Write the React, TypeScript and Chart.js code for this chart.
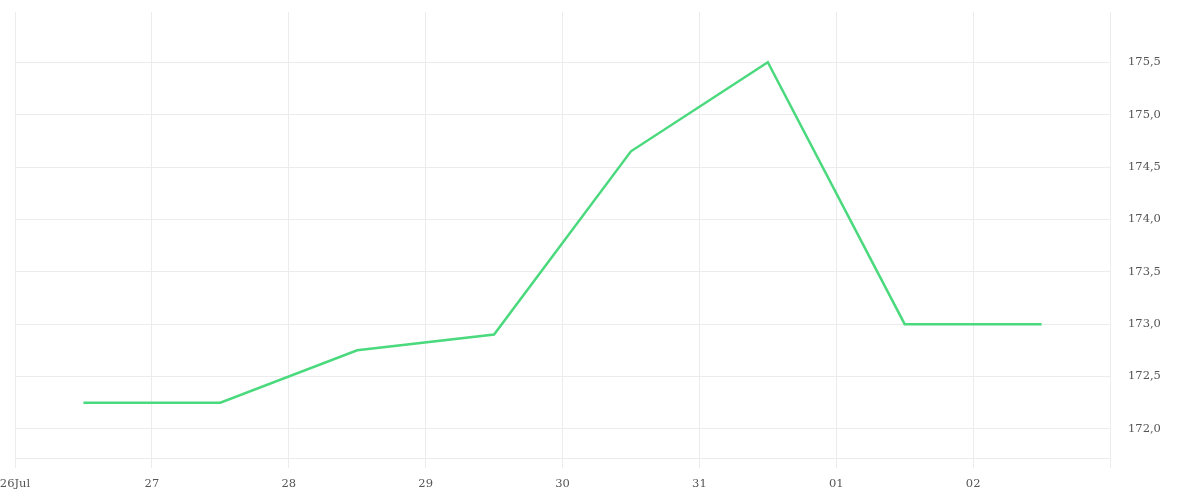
import React, { useEffect, useRef } from "react";
import { Chart, registerables } from "chart.js";

Chart.register(...registerables);

const dayLabels = ["26Jul", "27", "28", "29", "30", "31", "01", "02", ""];
const priceValues = [172.25, 172.25, 172.75, 172.9, 174.65, 175.5, 173.0, 173.0];
const yTickValues = [172.0, 172.5, 173.0, 173.5, 174.0, 174.5, 175.0, 175.5];

export default function App() {
  const ref = useRef<HTMLCanvasElement | null>(null);

  useEffect(() => {
    document.body.style.margin = "0";
    const ctx = ref.current!;
    const points = priceValues.map((v, i) => ({ x: i + 0.5, y: v }));
    const chart = new Chart(ctx, {
      type: "line",
      data: {
        datasets: [
          {
            data: points,
            borderColor: "#4ad97d",
            borderWidth: 2.5,
            pointRadius: 0,
            tension: 0,
            fill: false,
          },
        ],
      },
      options: {
        animation: false,
        responsive: true,
        maintainAspectRatio: false,
        layout: { padding: { top: 12, bottom: 0, left: 0, right: 0 } },
        plugins: { legend: { display: false }, tooltip: { enabled: false } },
        scales: {
          x: {
            type: "linear",
            min: 0,
            max: 8,
            grid: { color: "#ececec", tickLength: 10, lineWidth: 1 },
            border: { color: "#ececec" },
            ticks: {
              stepSize: 1,
              autoSkip: false,
              maxRotation: 0,
              padding: 9,
              color: "#555",
              font: { family: "'DejaVu Serif'", size: 11.5 },
              callback: (v: any) => dayLabels[Math.round(Number(v))] ?? "",
            },
            afterBuildTicks: (scale: any) => {
              scale.ticks = dayLabels.map((_, i) => ({ value: i }));
            },
            afterFit: (scale: any) => {
              scale.paddingLeft = 15;
              scale.paddingRight = 0;
            },
          },
          y: {
            position: "right",
            min: 171.72,
            max: 175.98,
            grid: { color: "#ececec", drawTicks: false },
            border: { color: "#ececec" },
            ticks: {
              padding: 18,
              color: "#555",
              font: { family: "'DejaVu Serif'", size: 11.5 },
              callback: (v: any) => Number(v).toFixed(1).replace(".", ","),
            },
            afterBuildTicks: (scale: any) => {
              scale.ticks = yTickValues.map((v) => ({ value: v }));
            },
            afterFit: (scale: any) => {
              scale.width = 90;
              scale.paddingTop = 0;
              scale.paddingBottom = 0;
            },
          },
        },
      },
    });
    return () => chart.destroy();
  }, []);

  return (
    <div style={{ width: 1200, height: 500, position: "relative" }}>
      <canvas ref={ref} />
    </div>
  );
}
